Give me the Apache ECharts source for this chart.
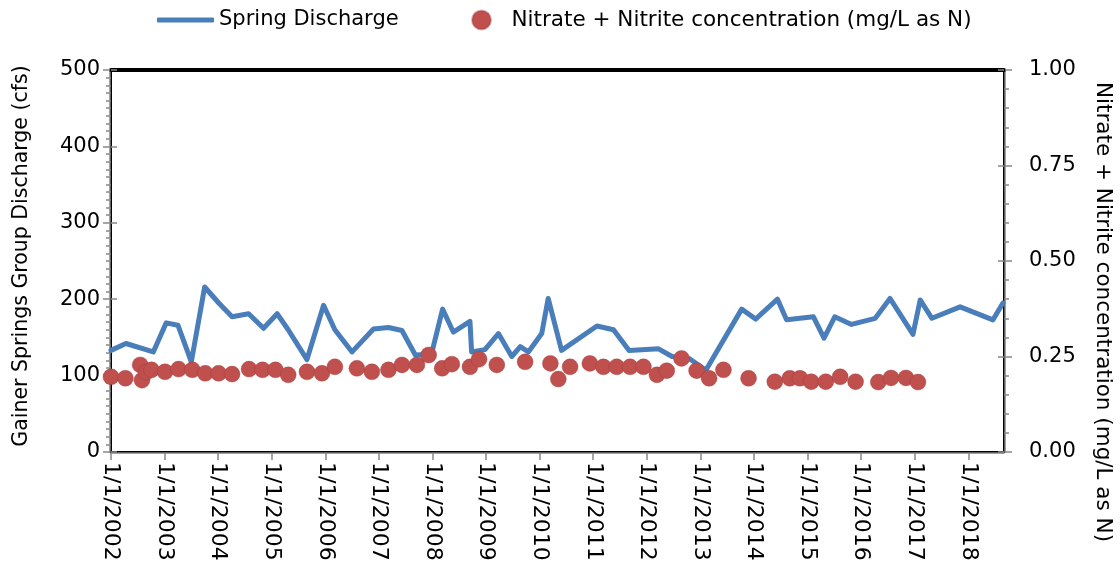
<!DOCTYPE html>
<html>
<head>
<meta charset="utf-8">
<script src="https://cdn.jsdelivr.net/npm/echarts@6/dist/echarts.min.js"></script>
<style>
html,body{margin:0;padding:0;background:#fff;}
#chart{width:1120px;height:577px;}
</style>
</head>
<body>
<div id="chart"></div>
<script>
// ---- Data ----
const dischargeDates = [
  '2002-01-01','2002-04-13','2002-10-16','2003-01-12','2003-04-02','2003-07-02','2003-10-01',
  '2004-01-05','2004-04-05','2004-07-27','2004-11-06','2005-02-07','2005-04-23','2005-08-29',
  '2005-12-20','2006-03-07','2006-07-02','2006-11-25','2007-03-07','2007-06-07','2007-09-06',
  '2007-12-25','2008-03-10','2008-05-22','2008-09-13','2008-09-24','2008-12-24','2009-03-26',
  '2009-06-25','2009-08-22','2009-10-16','2010-01-15','2010-02-28','2010-05-30','2011-01-26',
  '2011-05-19','2011-09-02','2012-03-21','2012-06-21','2012-10-19','2013-02-07','2013-10-09',
  '2014-01-12','2014-06-10','2014-08-11','2015-02-10','2015-04-23','2015-07-05','2015-10-27',
  '2016-04-06','2016-07-16','2016-12-20','2017-02-07','2017-04-28','2017-11-06','2018-06-18',
  '2018-08-25'
];
const dischargeCfs = [
  133,142,131,169,166,118,216,
  195,177,181,162,181,160,121,
  192,160,131,161,163,159,127,
  128,187,157,171,131,134,155,
  125,138,131,155,201,133,165,
  160,133,135,125,122,107,187,
  174,200,173,177,149,177,167,
  175,201,154,199,175,190,173,
  195
];
const nitrateDates = [
  '2002-01-01','2002-04-09','2002-07-19','2002-07-31','2002-08-29','2002-10-04','2003-01-04',
  '2003-04-06','2003-07-09','2003-10-05','2004-01-04','2004-04-05','2004-07-30','2004-10-30',
  '2005-01-26','2005-04-23','2005-08-29','2005-12-09','2006-03-07','2006-08-04','2006-11-14',
  '2007-03-07','2007-06-07','2007-09-17','2007-12-06','2008-03-07','2008-05-12','2008-09-13',
  '2008-11-14','2009-03-15','2009-09-24','2010-03-15','2010-05-08','2010-07-27','2010-12-09',
  '2011-03-11','2011-06-10','2011-09-09','2011-12-09','2012-03-10','2012-05-16','2012-08-25',
  '2012-12-06','2013-03-01','2013-06-07','2013-11-25','2014-05-23','2014-09-02','2014-11-10',
  '2015-01-26','2015-05-05','2015-08-11','2015-11-24','2016-04-27','2016-07-23','2016-11-02',
  '2017-01-23'
];
const nitrateValues = [
  0.197,0.193,0.228,0.188,0.209,0.215,0.210,
  0.217,0.215,0.206,0.206,0.204,0.217,0.215,
  0.215,0.202,0.210,0.206,0.223,0.219,0.210,
  0.215,0.228,0.228,0.254,0.219,0.230,0.223,
  0.243,0.228,0.236,0.232,0.191,0.223,0.232,
  0.223,0.223,0.223,0.223,0.202,0.213,0.245,
  0.213,0.193,0.215,0.193,0.184,0.193,0.193,
  0.184,0.184,0.197,0.184,0.183,0.194,0.194,
  0.183
];
const xStart = '2002-01-01';
const xEnd = '2018-09-01';
const leftTitle = 'Gainer Springs Group Discharge (cfs)';
const rightTitle = 'Nitrate + Nitrite concentration (mg/L as N)';
const seriesNames = ['Spring Discharge', 'Nitrate + Nitrite concentration (mg/L as N)'];

// ---- Helpers ----
function toYear(s) {
  const p = s.split('-').map(Number);
  const t = Date.UTC(p[0], p[1] - 1, p[2]);
  const a = Date.UTC(p[0], 0, 1), b = Date.UTC(p[0] + 1, 0, 1);
  return p[0] + (t - a) / (b - a);
}
const FONT = 'DejaVu Sans';
const xMin = toYear(xStart), xMax = toYear(xEnd);

const chart = echarts.init(document.getElementById('chart'), null, {renderer: 'canvas'});
const grid = {left: 111, right: 116, top: 70, bottom: 125, show: true, borderColor: '#000', borderWidth: 2, backgroundColor: 'transparent'};
const tickStyle = {color: '#888', width: 1.5};

chart.setOption({
  animation: false,
  backgroundColor: '#fff',
  grid: grid,
  legend: [
    {
      data: [{name: seriesNames[0], icon: 'roundRect'}],
      left: 152, top: 3, itemWidth: 57, itemHeight: 5, selectedMode: false,
      textStyle: {fontFamily: FONT, fontSize: 21, color: '#000', lineHeight: 24}
    },
    {
      data: [{name: seriesNames[1], icon: 'circle'}],
      left: 466, top: 3, itemWidth: 50, itemHeight: 19, selectedMode: false,
      textStyle: {fontFamily: FONT, fontSize: 21.5, color: '#000', lineHeight: 24}
    }
  ],
  xAxis: [
    {
      type: 'value', min: xMin, max: xMax, interval: 1, position: 'bottom', offset: 1,
      axisLine: {show: true, onZero: false, lineStyle: {color: '#808080', width: 1.5}},
      axisTick: {show: true, length: 7, lineStyle: tickStyle},
      splitLine: {show: false},
      axisLabel: {
        rotate: -90, margin: 9, showMaxLabel: false,
        fontFamily: FONT, fontSize: 22, color: '#000',
        formatter: v => Math.abs(v - Math.round(v)) < 1e-6 ? '1/1/' + Math.round(v) : ''
      }
    },
    {
      type: 'value', min: xMin, max: xMax, position: 'top',
      axisLine: {show: true, onZero: false, lineStyle: {color: '#000', width: 4}},
      axisTick: {show: false}, axisLabel: {show: false}, splitLine: {show: false}
    }
  ],
  yAxis: [
    {
      type: 'value', min: 0, max: 500, interval: 100, position: 'left', offset: 1,
      axisLine: {show: true, onZero: false, lineStyle: {color: '#808080', width: 1.5}},
      axisTick: {show: true, length: 7, lineStyle: tickStyle},
      splitLine: {show: false},
      axisLabel: {margin: 10, fontFamily: FONT, fontSize: 21, color: '#000'}
    },
    {
      type: 'value', min: 0, max: 1, interval: 0.25, position: 'right', offset: 1,
      axisLine: {show: true, onZero: false, lineStyle: {color: '#808080', width: 1.5}},
      axisTick: {show: true, length: 7, lineStyle: tickStyle},
      splitLine: {show: false},
      axisLabel: {margin: 24, fontFamily: FONT, fontSize: 21, color: '#000', formatter: v => v.toFixed(2)}
    },
    {
      type: 'value', min: 0, max: 500, interval: 100, position: 'left', offset: 0,
      axisLine: {show: false, onZero: false},
      axisTick: {show: true, inside: true, length: 6, lineStyle: tickStyle},
      minorTick: {show: true, splitNumber: 10, length: -5, lineStyle: tickStyle},
      splitLine: {show: false}, minorSplitLine: {show: false},
      axisLabel: {show: false}
    },
    {
      type: 'value', min: 0, max: 1, interval: 0.25, position: 'right', offset: 0,
      axisLine: {show: false, onZero: false},
      axisTick: {show: true, inside: true, length: 6, lineStyle: tickStyle},
      minorTick: {show: true, splitNumber: 5, length: -5, lineStyle: tickStyle},
      splitLine: {show: false}, minorSplitLine: {show: false},
      axisLabel: {show: false}
    }
  ],
  graphic: [
    {
      type: 'text', x: 22, y: 256, rotation: Math.PI / 2,
      style: {text: leftTitle, fontFamily: FONT, fontSize: 20.5, fill: '#000', align: 'center', verticalAlign: 'middle'}
    },
    {
      type: 'text', x: 1103, y: 312, rotation: -Math.PI / 2,
      style: {text: rightTitle, fontFamily: FONT, fontSize: 21.5, fill: '#000', align: 'center', verticalAlign: 'middle'}
    }
  ],
  series: [
    {
      name: seriesNames[0], type: 'line', xAxisIndex: 0, yAxisIndex: 0,
      data: dischargeDates.map((d, i) => [toYear(d), dischargeCfs[i]]),
      showSymbol: false, symbol: 'none', z: 2,
      itemStyle: {color: '#4a7ebb'},
      lineStyle: {color: '#4a7ebb', width: 5, join: 'round', cap: 'round'}
    },
    {
      name: seriesNames[1], type: 'scatter', xAxisIndex: 0, yAxisIndex: 1,
      data: nitrateDates.map((d, i) => [toYear(d), nitrateValues[i]]),
      symbol: 'circle', symbolSize: 16, z: 3,
      itemStyle: {color: '#c0504d', opacity: 1, borderColor: 'rgba(150,55,55,0.35)', borderWidth: 1}
    }
  ]
});
</script>
</body>
</html>
